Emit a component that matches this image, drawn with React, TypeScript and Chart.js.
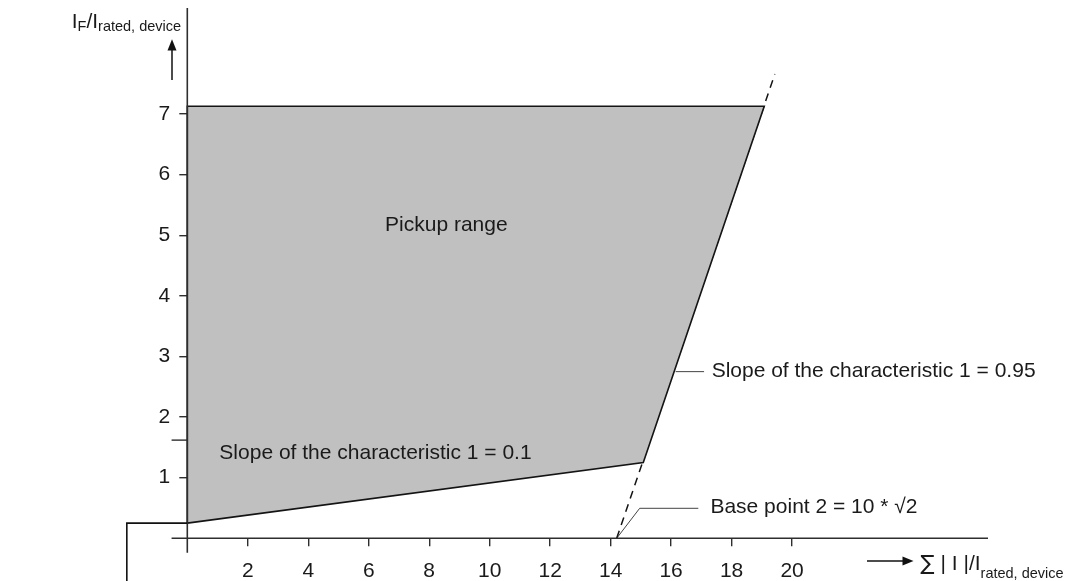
import React, { useEffect, useRef } from "react";
import { Chart, registerables } from "chart.js";

Chart.register(...registerables);

// ---- data (axis units) ----
const xTickValues = [2, 4, 6, 8, 10, 12, 14, 16, 18, 20];
const yTickValues = [1, 2, 3, 4, 5, 6, 7];

// pickup region polygon (closed)
const pickupX = [0, 15.08, 19.08, 0, 0];
const pickupY = [0.25, 1.25, 7.13, 7.13, 0.25];

// slope 2 characteristic line (dashed), from base point 10*sqrt(2)
const slopeLineX = [14.2, 19.43];
const slopeLineY = [0, 7.66];

// leader lines of the annotations
const leaderLowX = [5.49, 6.81];
const leaderLowY = [1.14, 0.7];
const leaderHighX = [16.15, 17.09];
const leaderHighY = [2.75, 2.75];
const leaderBaseX = [14.2, 14.96, 16.9];
const leaderBaseY = [0, 0.495, 0.495];

// annotation texts with their anchors (axis units, left / middle)
const annotationTexts = [
  "Pickup range",
  "Slope of the characteristic 1 = 0.1",
  "Slope of the characteristic 1 = 0.95",
  "Base point 2 = 10 * \u221A2",
];
const annotationX = [6.54, 1.06, 17.34, 17.3];
const annotationY = [5.17, 1.4, 2.75, 0.51];

// axis extents
const xMax = 26.48;
const yMax = 8.75;
const axisStartX = -0.52;
const axisStartY = -0.24;
const extraTickY = 1.62;
const bracketX = -2.0;
const bracketY = 0.25;

const FONT = "'Liberation Sans', Arial, Helvetica, sans-serif";
const INK = "#1a1a1a";
const AXIS = "#2e2e2e";

function pts(xs: number[], ys: number[]) {
  return xs.map((v, i) => ({ x: v, y: ys[i] }));
}

const zeroPad = (s: any) => {
  s.paddingTop = 0;
  s.paddingBottom = 0;
  s.paddingLeft = 0;
  s.paddingRight = 0;
};

const decorPlugin = {
  id: "decor",
  afterDraw(chart: any) {
    const { ctx, chartArea } = chart;
    const xs = chart.scales.x;
    const ys = chart.scales.y;
    const px = (v: number) => xs.getPixelForValue(v);
    const py = (v: number) => ys.getPixelForValue(v);
    const seg = (x1: number, y1: number, x2: number, y2: number) => {
      ctx.beginPath();
      ctx.moveTo(x1, y1);
      ctx.lineTo(x2, y2);
      ctx.stroke();
    };
    ctx.save();
    ctx.lineCap = "butt";
    // axes
    ctx.strokeStyle = AXIS;
    ctx.lineWidth = 1.6;
    seg(px(axisStartX), py(0), chartArea.right, py(0));
    seg(px(0), chartArea.top, px(0), py(axisStartY));
    // extra long tick
    ctx.lineWidth = 1.4;
    seg(px(axisStartX), py(extraTickY), px(0), py(extraTickY));
    // bracket
    ctx.strokeStyle = "#111";
    ctx.lineWidth = 1.6;
    ctx.beginPath();
    ctx.moveTo(px(0), py(bracketY));
    ctx.lineTo(px(bracketX), py(bracketY));
    ctx.lineTo(px(bracketX), chart.height + 2);
    ctx.stroke();

    // annotation texts
    ctx.fillStyle = INK;
    ctx.font = `21px ${FONT}`;
    ctx.textAlign = "left";
    ctx.textBaseline = "middle";
    annotationTexts.forEach((t, i) => {
      ctx.fillText(t, px(annotationX[i]), py(annotationY[i]));
    });

    // titles with subscripts
    const drawRich = (parts: [string, boolean, string?][], x0: number, base: number, subDrop: number) => {
      let x = x0;
      ctx.textBaseline = "alphabetic";
      for (const [t, sub, fam] of parts) {
        ctx.font = sub ? `14.5px ${FONT}` : `21px ${fam || FONT}`;
        ctx.fillText(t, x, sub ? base + subDrop : base);
        x += ctx.measureText(t).width;
      }
    };
    drawRich([["I", false], ["F", true], ["/I", false], ["rated, device", true]], 71.7, 28.3, 3);
    drawRich(
      [["\u2211", false, "'DejaVu Sans', sans-serif"], [" | I |/I", false], ["rated, device", true]],
      920.5,
      570,
      8
    );

    // arrows
    ctx.strokeStyle = "#111";
    ctx.fillStyle = "#111";
    ctx.lineWidth = 1.5;
    seg(172, 80, 172, 48);
    ctx.beginPath();
    ctx.moveTo(172, 39.3);
    ctx.lineTo(167.5, 50.5);
    ctx.lineTo(176.5, 50.5);
    ctx.closePath();
    ctx.fill();
    seg(867, 561, 904, 561);
    ctx.beginPath();
    ctx.moveTo(913.5, 561);
    ctx.lineTo(902.5, 556.5);
    ctx.lineTo(902.5, 565.5);
    ctx.closePath();
    ctx.fill();
    ctx.restore();
  },
};

export default function App() {
  const ref = useRef<HTMLCanvasElement | null>(null);
  useEffect(() => {
    if (!ref.current) return;
    const chart = new Chart(ref.current, {
      type: "scatter",
      data: {
        datasets: [
          {
            data: pts(pickupX, pickupY),
            showLine: true,
            fill: "shape",
            backgroundColor: "#c0c0c0",
            borderColor: "#141414",
            borderWidth: 1.6,
            pointRadius: 0,
            tension: 0,
            clip: false,
            order: 0,
          } as any,
          {
            data: pts(slopeLineX, slopeLineY),
            showLine: true,
            borderColor: "#141414",
            borderWidth: 1.5,
            borderDash: [8, 6],
            pointRadius: 0,
            clip: false,
            order: 1,
          },
          {
            data: pts(leaderLowX, leaderLowY),
            showLine: true,
            borderColor: "#444",
            borderWidth: 1,
            pointRadius: 0,
            clip: false,
            order: 2,
          },
          {
            data: pts(leaderHighX, leaderHighY),
            showLine: true,
            borderColor: "#444",
            borderWidth: 1,
            pointRadius: 0,
            clip: false,
            order: 2,
          },
          {
            data: pts(leaderBaseX, leaderBaseY),
            showLine: true,
            borderColor: "#444",
            borderWidth: 1,
            pointRadius: 0,
            clip: false,
            order: 2,
          },
        ],
      },
      options: {
        responsive: false,
        animation: false,
        events: [],
        layout: { padding: { left: 0, top: 8, right: 80, bottom: 0 } },
        plugins: { legend: { display: false }, tooltip: { enabled: false } },
        scales: {
          x: {
            type: "linear",
            min: 0,
            max: xMax,
            afterBuildTicks: (s: any) => {
              s.ticks = xTickValues.map((v) => ({ value: v }));
            },
            afterFit: (s: any) => {
              s.height = 42.7;
              zeroPad(s);
            },
            grid: { drawOnChartArea: false, drawTicks: true, tickLength: 8, tickColor: AXIS, lineWidth: 1.4 },
            border: { display: false },
            ticks: {
              font: { family: FONT, size: 21 },
              color: INK,
              padding: 12,
              maxRotation: 0,
              autoSkip: false,
              callback: (v: any) => String(v),
            },
          },
          y: {
            type: "linear",
            min: 0,
            max: yMax,
            afterBuildTicks: (s: any) => {
              s.ticks = yTickValues.map((v) => ({ value: v }));
            },
            afterFit: (s: any) => {
              s.width = 187.3;
              zeroPad(s);
            },
            grid: { drawOnChartArea: false, drawTicks: true, tickLength: 8, tickColor: AXIS, lineWidth: 1.4 },
            border: { display: false },
            ticks: {
              font: { family: FONT, size: 21 },
              color: INK,
              padding: 9,
              autoSkip: false,
              callback: (v: any) => String(v),
            },
          },
        },
      },
      plugins: [decorPlugin],
    });
    return () => chart.destroy();
  }, []);
  return (
    <div style={{ position: "fixed", left: 0, top: 0, width: 1068, height: 581, background: "#fff" }}>
      <canvas ref={ref} width={1068} height={581} style={{ display: "block" }} />
    </div>
  );
}
